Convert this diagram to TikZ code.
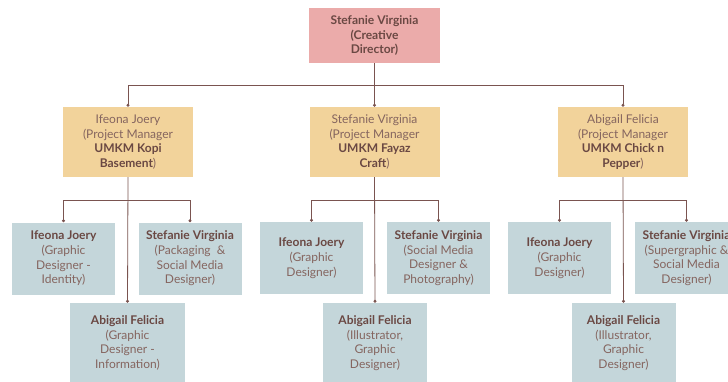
\documentclass[tikz,border=0pt]{standalone}
\usepackage{fontspec}
\setmainfont{Lato}
\usetikzlibrary{arrows.meta}
\definecolor{dirpink}{HTML}{EBABAA}
\definecolor{pmtan}{HTML}{F2D39B}
\definecolor{teamblue}{HTML}{C4D6DA}
\definecolor{inkbrown}{HTML}{85655F}
\definecolor{boldbrown}{HTML}{6A4843}
\definecolor{linkbrown}{HTML}{7A5450}
\newcommand{\who}[1]{{\bfseries\color{boldbrown}#1}}
\tikzset{
  box/.style={inner sep=0pt, align=center, text=inkbrown,
    font=\fontsize{12}{14.7}\selectfont},
  dirbox/.style={box, fill=dirpink, minimum width=131pt, minimum height=55pt},
  pmbox/.style={box, fill=pmtan, minimum width=130pt, minimum height=70pt},
  teambox/.style={box, fill=teamblue, minimum width=103pt, minimum height=72pt},
  lowbox/.style={box, fill=teamblue, minimum width=104pt, minimum height=80pt},
  link/.style={linkbrown, line width=0.8pt, -{Circle[length=3pt]}},
}
\begin{document}
\begin{tikzpicture}[x=1pt, y=-1pt]
  \useasboundingbox (0,0) rectangle (728,381);
  \clip (0,0) rectangle (728,381);
  % director
  \node[dirbox] (dir) at (374.5,35.5) {\who{Stefanie Virginia}\\\who{(Creative}\\\who{Director)}};
  % project managers
  \node[pmbox] (pmA) at (128,142) {Ifeona Joery\\(Project Manager\\\who{UMKM Kopi}\\\who{Basement})};
  \node[pmbox] (pmB) at (374.5,142) {Stefanie Virginia\\(Project Manager\\\who{UMKM Fayaz}\\\who{Craft})};
  \node[pmbox] (pmC) at (623,142) {Abigail Felicia\\(Project Manager\\\who{UMKM Chick n}\\\who{Pepper})};
  % teams
  \node[teambox] (ltA) at (63.5,258.5) {\who{Ifeona Joery}\\(Graphic\\Designer -\\Identity)};
  \node[teambox] (rtA) at (190,258.5) {\who{Stefanie Virginia}\\(Packaging\ \ \&\\Social Media\\Designer)};
  \node[lowbox, minimum width=115pt] (botA) at (127.5,343) {\who{Abigail Felicia}\\(Graphic\\Designer -\\Information)};
  \node[teambox] (ltB) at (311.5,258) {\who{Ifeona Joery}\\(Graphic\\Designer)};
  \node[teambox] (rtB) at (438.5,258) {\who{Stefanie Virginia}\\(Social Media\\Designer \&\\Photography)};
  \node[lowbox] (botB) at (375,343) {\who{Abigail Felicia}\\(Illustrator,\\Graphic\\Designer)};
  \node[teambox] (ltC) at (559.5,258) {\who{Ifeona Joery}\\(Graphic\\Designer)};
  \node[teambox] (rtC) at (686.5,258) {\who{Stefanie Virginia}\\(Supergraphic \&\\Social Media\\Designer)};
  \node[lowbox] (botC) at (623.5,343) {\who{Abigail Felicia}\\(Illustrator,\\Graphic\\Designer)};
  % connectors
  \foreach \g in {A,B,C}{
    \draw[link] (dir.south) -- ++(0,22) -| (pm\g.north);
    \draw[link] (pm\g.south) -- (bot\g.north);
    \draw[link] (pm\g.south) ++(0,23) -| (lt\g.north);
    \draw[link] (pm\g.south) ++(0,23) -| (rt\g.north);
  }
\end{tikzpicture}
\end{document}
